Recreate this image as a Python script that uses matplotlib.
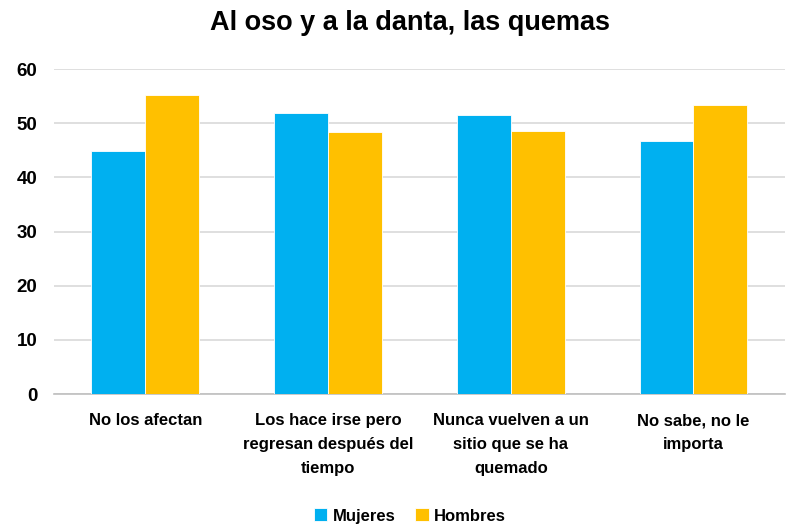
import numpy as np
import matplotlib
matplotlib.use('Agg')
import matplotlib.pyplot as plt
from matplotlib import font_manager

# ── Data ──────────────────────────────────────────────────────────────────────
categories = [
    'No los afectan',
    'Los hace irse pero\nregresan después del\ntiempo',
    'Nunca vuelven a un\nsitio que se ha\nquemado',
    'No sabe, no le\nimporta',
]
mujeres = [44.9, 51.8, 51.6, 46.7]
hombres = [55.2, 48.4, 48.6, 53.4]
yticks = [0, 10, 20, 30, 40, 50, 60]

# ── Style ─────────────────────────────────────────────────────────────────────
C_MUJ = '#00B0F0'
C_HOM = '#FFC000'
C_GRID = '#D9D9D9'
C_TEXT = '#000000'

names = {f.name for f in font_manager.fontManager.ttflist}
FONT = ['Liberation Sans Narrow', 'Liberation Sans', 'DejaVu Sans']
FONT = [f for f in FONT if f in names] or ['DejaVu Sans']
plt.rcParams['font.family'] = FONT

fig = plt.figure(figsize=(7.88, 5.25), dpi=100)
ax = fig.add_axes([0.0685, 0.2495, 0.9275, 0.619])

x = np.arange(len(categories))
w = 0.295
ax.bar(x - w / 2, mujeres, w, color=C_MUJ, edgecolor='white', linewidth=0.6,
       label='Mujeres', zorder=3)
ax.bar(x + w / 2, hombres, w, color=C_HOM, edgecolor='white', linewidth=0.6,
       label='Hombres', zorder=3)

ax.set_xlim(-0.5, len(categories) - 0.5)
ax.set_ylim(0, 60)
ax.set_yticks(yticks)
ax.set_yticklabels([str(t) for t in yticks], fontsize=13.5, fontweight='bold')
ax.yaxis.grid(True, color=C_GRID, linewidth=1.2, zorder=0)
ax.tick_params(axis='y', length=0, pad=12)

ax.set_xticks(x)
ax.set_xticklabels(categories, fontsize=12, linespacing=1.75,
                   fontweight='bold', va='top')
ax.tick_params(axis='x', length=0, pad=14)

for s in ['top', 'right', 'left']:
    ax.spines[s].set_visible(False)
ax.spines['bottom'].set_color('#BFBFBF')
ax.spines['bottom'].set_linewidth(1.2)

fig.text(0.52, 0.957, 'Al oso y a la danta, las quemas', ha='center',
         va='center', fontsize=19.5, fontweight='bold', color=C_TEXT)

fig.legend(loc='center', bbox_to_anchor=(0.52, 0.017), ncol=2, frameon=False,
           prop={'size': 12, 'weight': 'bold'}, handlelength=0.8,
           handleheight=0.8, handletextpad=0.3, columnspacing=1.2)

fig.savefig('out.png', dpi=100, facecolor='white')
